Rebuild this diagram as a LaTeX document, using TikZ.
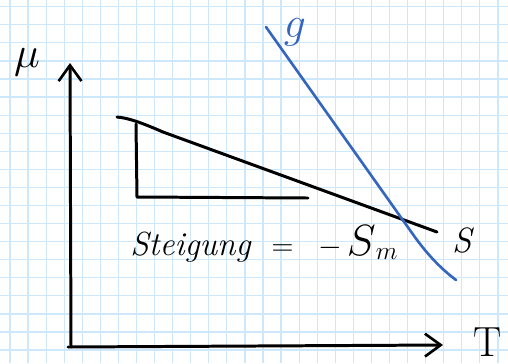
\documentclass[tikz,border=0pt]{standalone}
\usetikzlibrary{arrows.meta}
\definecolor{gridblue}{RGB}{204,232,250}
\definecolor{penblue}{RGB}{52,102,192}
\begin{document}
\begin{tikzpicture}[x=0.02cm,y=-0.02cm,
  gridline/.style={draw=gridblue,line width=0.7pt},
  ink/.style={draw=black,line width=1.7pt,line cap=round,line join=round},
  blueink/.style={draw=penblue,line width=1.5pt,line cap=round},
  chev/.style={-{Straight Barb[length=9pt,width=13pt,line width=1.5pt]}},
  hand/.style={inner sep=0pt,font=\fontsize{20}{22}\selectfont\itshape}]
\useasboundingbox (0,0) rectangle (508,363);
\fill[white] (0,0) rectangle (508,363);
% grid
\foreach \i in {0,...,27} {\draw[gridline] ({10+18.07*\i},0) -- ({10+18.07*\i},363);}
\foreach \j in {0,...,19} {\draw[gridline] (0,{6.7+18.07*\j}) -- (508,{6.7+18.07*\j});}
% axes
\coordinate (O) at (71,347);
\coordinate (ytip) at (70,63);
\coordinate (xtip) at (443,345);
\draw[ink,chev] (O) -- (ytip);
\draw[ink,chev] (68,347) -- (xtip);
\node[hand,font=\fontsize{28}{30}\selectfont] (mu) at (27,62) {$\mu$};
\node[hand,font=\fontsize{24}{26}\selectfont] (T) at (488,342) {T};
% black line S
\coordinate (s0) at (117,117);
\coordinate (s2) at (437,232);
\draw[ink] (s0) .. controls (128,118) and (140,122) .. (163,132) -- (s2);
\node[hand] (Slab) at (462,240) {S};
% slope triangle
\coordinate (t0) at (136,124);
\coordinate (t1) at (137,197);
\coordinate (t2) at (308,198);
\draw[ink] (t0) -- (t1) -- (t2);
\node[hand,anchor=base west,font=\fontsize{19}{22}\selectfont\itshape] (steig) at (130,255) {Steigung\hspace{12pt}$=$\hspace{14pt}$-$\hspace{3pt}$\mbox{\fontsize{25}{27}\selectfont$S$}_m$};
% blue line g
\coordinate (g0) at (266,27);
\coordinate (g1) at (412,233);
\coordinate (g2) at (456,280);
\draw[blueink] (g0) -- (g1) .. controls (426,253) and (440,268) .. (g2);
\node[hand,text=penblue,font=\fontsize{26}{28}\selectfont] (g) at (295,32) {$g$};
\end{tikzpicture}
\end{document}
